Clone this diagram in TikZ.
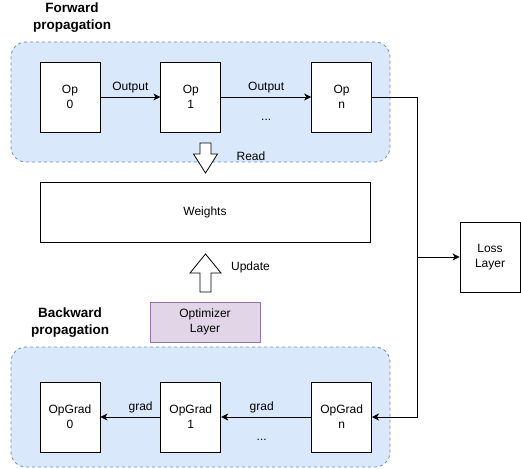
\documentclass[tikz,border=0pt]{standalone}
\usepackage{fontspec}
\setmainfont{Liberation Sans}
\usetikzlibrary{arrows, arrows.meta, positioning}
\definecolor{groupfill}{HTML}{DAE8FC}
\definecolor{groupline}{HTML}{6C8EBF}
\definecolor{optfill}{HTML}{E1D5E7}
\definecolor{optline}{HTML}{9673A6}

\begin{document}
\begin{tikzpicture}[x=1pt, y=-1pt, >={Stealth[length=7pt, width=7pt, inset=2pt]}, node distance=60pt, line width=0.8pt,
        font=\fontsize{12}{15}\selectfont]
        \tikzstyle{group} = [rectangle, draw=groupline, fill=groupfill, dashed, rounded corners=15pt, minimum width=379pt, minimum height=120pt]
        \tikzstyle{title} = [align=center, font=\fontsize{13.5}{17}\selectfont\bfseries]
        \tikzstyle{op} = [rectangle, draw, fill=white, minimum width=60pt, minimum height=70pt, inner sep=0pt, align=center]
        \tikzstyle{blockarrow} = [draw, fill=white, line width=0.8pt]
        \useasboundingbox (0,0) rectangle (521,468);

        % groups
        \node[group](fwd) at (200.5,102) {};
        \node[group](bwd) at (200.5,407) {};
        \node[title](fwd_title) at (72,18) {Forward\\propagation};
        \node[title](bwd_title) at (70,323) {Backward\\propagation};

        % forward ops
        \node[op](op_0) at (70,97) {Op\\0};
        \node[op](op_1) [right=of op_0] {Op\\1};
        \node[op](op_n) [right=90pt of op_1] {Op\\n};
        \draw[->] (op_0) -- node[above] {Output} (op_1);
        \draw[->] (op_1) -- node[above] {Output} node[below=18pt] {...} (op_n);

        % weights
        \node[op, minimum width=330pt, minimum height=60pt](weights) at (205,212) {Weights};
        \draw[blockarrow, shift={(205.5,143)}] (-5.5,0) -- (5.5,0) -- (5.5,11) -- (12,11) -- (0,30) -- (-12,11) -- (-5.5,11) -- cycle;
        \node(read) at (251,156) {Read};
        \draw[blockarrow, shift={(205.5,292)}] (-5.5,0) -- (5.5,0) -- (5.5,-19) -- (15.5,-19) -- (0,-38) -- (-15.5,-19) -- (-5.5,-19) -- cycle;
        \node(update) at (250.5,267) {Update};
        \node[op, draw=optline, fill=optfill, minimum width=110pt, minimum height=40pt](optimizer) at (205,322) {Optimizer\\Layer};

        % loss
        \node[op](loss) at (490,257) {Loss\\Layer};

        % backward ops
        \node[op](grad_0) at (70,417) {OpGrad\\0};
        \node[op](grad_1) [right=of grad_0] {OpGrad\\1};
        \node[op](grad_n) [right=90pt of grad_1] {OpGrad\\n};
        \draw[->] (grad_1) -- node[above, pos=0.33] {grad} (grad_0);
        \draw[->] (grad_n) -- node[above, pos=0.55] {grad} node[below=18pt, pos=0.55] {...} (grad_1);

        % loss connector
        \coordinate[right=45pt of op_n.east](turn);
        \draw (op_n) -- (turn);
        \draw[->] (turn) |- (grad_n);
        \draw[->] (turn |- loss) -- (loss);
    \end{tikzpicture}
\end{document}
